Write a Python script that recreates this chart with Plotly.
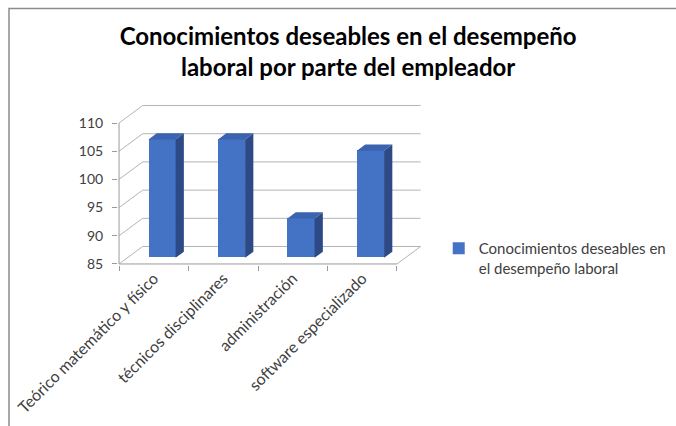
import plotly.graph_objects as go

# Chart data
categories = [
    "Teórico matemático y físico",
    "técnicos disciplinares",
    "administración",
    "software especializado",
]
values = [106, 106, 92, 104]
y_ticks = [85, 90, 95, 100, 105, 110]
series_name = "Conocimientos deseables en<br>el desempeño laboral"
title_text = "Conocimientos deseables en el desempeño<br>laboral por parte del empleador"

# Pseudo-3D geometry (in axis units)
Y_MIN = 85
DEPTH_X = 0.34          # wall depth along x (category units)
DEPTH_Y = 3.1           # wall depth along y (value units)
BAR_FRONT = 0.35        # bar front plane, fraction of depth
BAR_BACK = 0.70         # bar back plane, fraction of depth
BAR_WIDTH = 0.39

FRONT = "#4472C4"
SIDE = "#2D4A87"
TOP = "#3A63B0"
GRID = "#B4B4B4"
AXIS = "#9A9A9A"
FONT = "Lato"

n = len(categories)
centers = [i + 0.5 for i in range(n)]
fx, fy = BAR_FRONT * DEPTH_X, BAR_FRONT * DEPTH_Y
bx, by = (BAR_BACK - BAR_FRONT) * DEPTH_X, (BAR_BACK - BAR_FRONT) * DEPTH_Y
base = Y_MIN + fy

fig = go.Figure()

# Front faces of the columns
fig.add_trace(go.Bar(
    x=[c + fx for c in centers],
    y=[v - Y_MIN for v in values],
    base=base,
    width=BAR_WIDTH,
    marker=dict(color=FRONT, line=dict(width=0)),
    name=series_name,
    showlegend=True,
    hovertext=[f"{c}: {v}" for c, v in zip(categories, values)],
    hoverinfo="text",
))

# Side and top faces
side_x, side_y, top_x, top_y = [], [], [], []
for c, v in zip(centers, values):
    xl = c + fx - BAR_WIDTH / 2
    xr = c + fx + BAR_WIDTH / 2
    top = v + fy
    side_x += [xr, xr + bx, xr + bx, xr, xr, None]
    side_y += [base, base + by, top + by, top, base, None]
    top_x += [xl, xr, xr + bx, xl + bx, xl, None]
    top_y += [top, top, top + by, top + by, top, None]

fig.add_trace(go.Scatter(x=side_x, y=side_y, mode="lines", fill="toself",
                         fillcolor=SIDE, line=dict(width=0), hoverinfo="skip",
                         showlegend=False))
fig.add_trace(go.Scatter(x=top_x, y=top_y, mode="lines", fill="toself",
                         fillcolor=TOP, line=dict(width=0), hoverinfo="skip",
                         showlegend=False))

# Walls, floor and axis lines
shapes = []
for t in y_ticks:
    shapes.append(dict(type="line", x0=DEPTH_X, y0=t + DEPTH_Y, x1=n + DEPTH_X, y1=t + DEPTH_Y,
                       line=dict(color=GRID, width=1), layer="below"))
    shapes.append(dict(type="line", x0=0, y0=t, x1=DEPTH_X, y1=t + DEPTH_Y,
                       line=dict(color=GRID, width=1), layer="below"))
shapes.append(dict(type="line", x0=0, y0=Y_MIN, x1=n, y1=Y_MIN,
                   line=dict(color=AXIS, width=1), layer="below"))
shapes.append(dict(type="line", x0=n, y0=Y_MIN, x1=n + DEPTH_X, y1=Y_MIN + DEPTH_Y,
                   line=dict(color=GRID, width=1), layer="below"))
shapes.append(dict(type="line", x0=0, y0=Y_MIN, x1=0, y1=y_ticks[-1],
                   line=dict(color=AXIS, width=1), layer="below"))
# Chart frame
shapes.append(dict(type="rect", xref="paper", yref="paper",
                   x0=9 / 676, x1=1.2, y0=-0.2, y1=1 - 8.5 / 426,
                   line=dict(color="#8C8C8C", width=1.5), layer="below"))
for s in shapes:
    s.setdefault("xref", "x")
    s.setdefault("yref", "y")

fig.update_layout(
    width=676, height=426,
    margin=dict(l=0, r=0, t=0, b=0, autoexpand=False),
    paper_bgcolor="white", plot_bgcolor="white",
    font=dict(family=FONT, color="#404040", size=14),
    title=dict(text=title_text, x=0.515, xanchor="center", y=1 - 45 / 426,
               yanchor="middle",
               font=dict(family=FONT, size=24, color="#000000", weight="bold")),
    shapes=shapes,
    bargap=0,
    showlegend=True,
    legend=dict(x=0.649, y=1 - 232 / 426, xanchor="left", yanchor="top",
                valign="top", font=dict(family=FONT, size=15, color="#404040"),
                bgcolor="rgba(0,0,0,0)"),
    xaxis=dict(
        domain=[118 / 676, 422 / 676],
        range=[-0.015, n + 0.36],
        automargin=False,
        tickmode="array",
        tickvals=centers,
        ticktext=categories,
        tickangle=-45,
        ticks="",
        showgrid=False, zeroline=False, showline=False,
        minor=dict(tickmode="array", tickvals=list(range(n + 1)), ticks="outside",
                   ticklen=5, tickcolor=AXIS, showgrid=False),
        tickfont=dict(family=FONT, size=16, color="#404040"),
        fixedrange=True,
    ),
    yaxis=dict(
        domain=[(426 - 265.1) / 426, (426 - 104.4) / 426],
        range=[84.8, 113.3],
        automargin=False,
        tickmode="array",
        tickvals=y_ticks,
        ticks="outside", ticklen=5, tickcolor=AXIS,
        ticklabelstandoff=6,
        showgrid=False, zeroline=False, showline=False,
        tickfont=dict(family=FONT, size=14, color="#404040"),
        fixedrange=True,
    ),
)

fig.write_html("out.html")
